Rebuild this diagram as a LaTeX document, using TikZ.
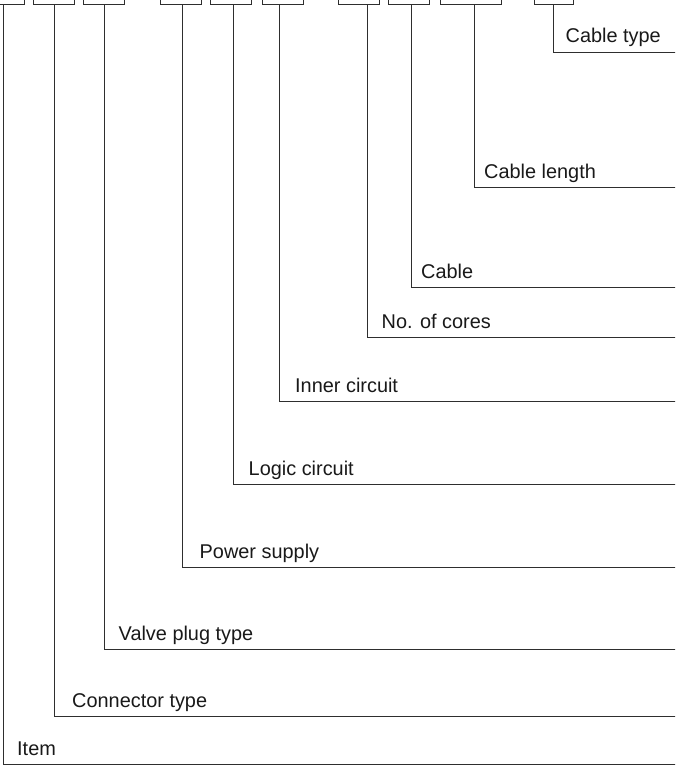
\documentclass[tikz,border=0pt]{standalone}
\usepackage{fontspec}
\setmainfont{Liberation Sans}
\begin{document}
\begin{tikzpicture}[x=1pt,y=-1pt,
  ln/.style={draw=black!82,line width=0.9pt},
  codebox/.style={ln,rectangle,inner sep=0pt,minimum height=40pt},
  lbl/.style={anchor=base west,inner sep=0pt,text=black!90,font=\fontsize{19.9}{23}\selectfont}]
\useasboundingbox (0,0) rectangle (675,776);
\clip (0,0) rectangle (675,776);
% boxes: name / left / right / line x / line y / text x / text
\foreach \n/\l/\r/\lx/\ly/\tx/\t in {
  a/-17.5/24/3.3/764/17/Item,
  b/33.7/74/54/716/72/Connector type,
  c/83/124/104/649/118.5/Valve plug type,
  d/160/201/182.5/567/199.5/Power supply,
  e/210/251/233.5/484/248.5/Logic circuit,
  f/262/303/279/401/295/Inner circuit,
  g/338/379/367.3/337/381.5/No. of cores,
  h/388/429/411/287/421/Cable,
  i/440/501/474/187/484/Cable length,
  j/534/573/553/52/565.5/Cable type}{
  \pgfmathsetmacro{\boxcx}{(\l+\r)/2}
  \pgfmathsetmacro{\boxw}{\r-\l}
  \node[codebox,minimum width=\boxw pt] (box\n) at (\boxcx,-15.5) {};
  \coordinate (top\n) at (\lx,4.5);
  \coordinate (end\n) at (677,\ly);
  \draw[ln] (top\n) |- (end\n);
  \node[lbl] (lab\n) at (\tx,\ly-9) {\t};
}
\end{tikzpicture}
\end{document}
